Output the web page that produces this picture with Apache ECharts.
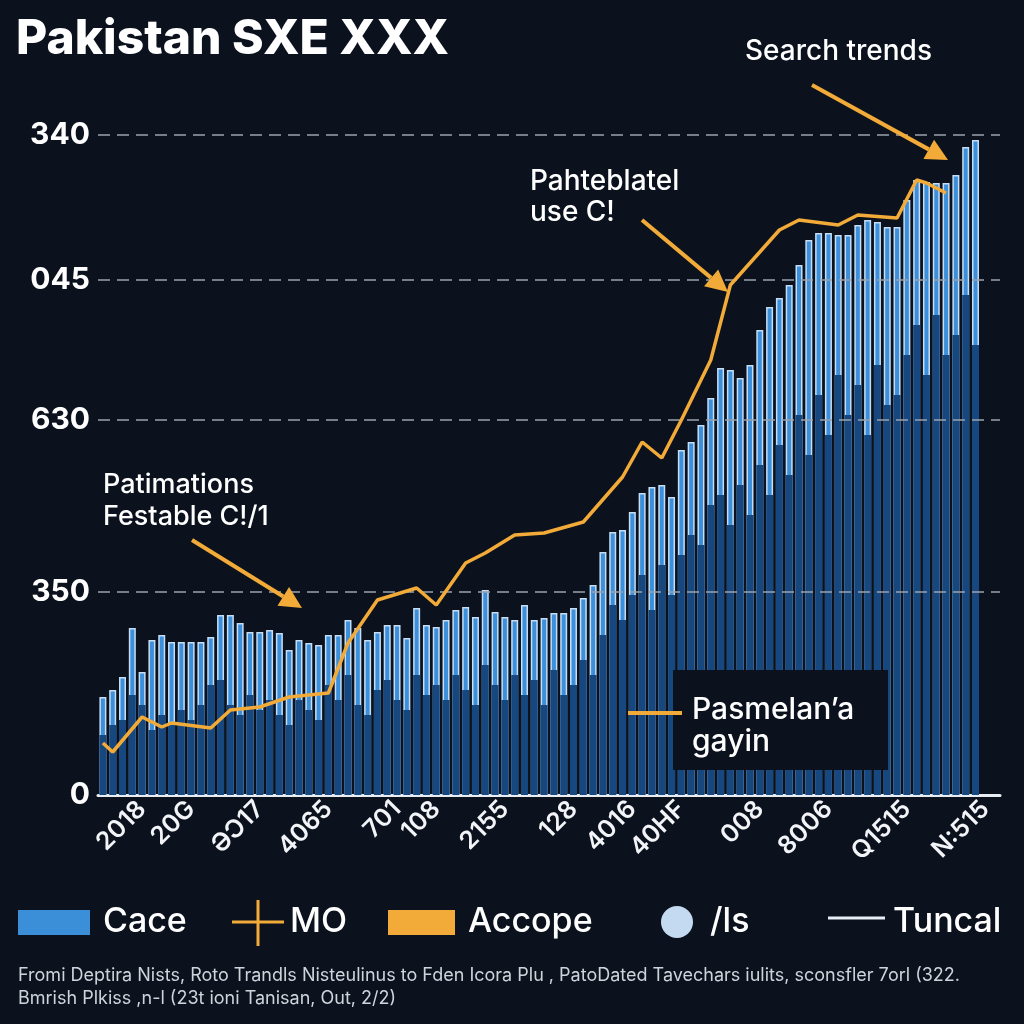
<!DOCTYPE html>
<html>
<head>
<meta charset="utf-8">
<script src="https://cdn.jsdelivr.net/npm/echarts@6/dist/echarts.min.js"></script>
<style>
html,body{margin:0;padding:0;background:#0b121e;}
#c{width:1024px;height:1024px;}
</style>
</head>
<body>
<div id="c"></div>
<script>
// ---- data ----
const barTotals = [98,105,118,167,123,155,160,153,153,153,153,
  158,180,180,172,163,163,165,162,145,155,
  152,150,160,160,175,167,155,163,170,170,
  157,187,170,168,175,185,188,178,205,183,
  178,175,190,175,177,182,182,187,197,210,
  243,263,265,283,302,308,310,298,345,353,
  370,397,427,425,417,430,465,488,497,510,
  530,555,562,562,560,560,570,575,573,568,
  568,595,615,613,612,612,620,648,655];
const barDark = [60,70,75,100,90,65,80,70,85,75,90,
  110,115,90,80,100,85,95,80,70,95,
  85,75,110,95,120,90,80,105,115,95,
  85,120,100,110,95,120,105,90,130,110,
  95,120,100,115,90,125,100,110,135,120,
  160,190,175,200,220,185,230,200,240,260,
  250,290,300,270,310,280,330,300,350,320,
  380,340,400,360,420,380,410,360,430,390,
  400,440,470,420,480,440,460,500,450];
const lineIdx = [0,1,4,6,7,11,13,16,19,23,25,28,32,34,37,39,42,45,49,53,55,57,59,61,62,64,69,71,75,77,81,83,84,86];
const lineVal = [52,43,78,68,72,67,85,88,98,102,152,195,207,190,232,242,260,262,273,318,353,337,375,415,435,510,565,575,570,580,577,615,612,602];
const xTickPos = [4,9,16,23,30,34,41,48,54,59,67,74,82,90];
const xTickLabels = ['2018','20G','ƏƆ17','4065','701','108','2155','128','4016','40HF','008','8006','Q1515','N:515'];
const yTickVals = [0,203,375,515,660];
const yTickLabels = ['0','350','630','045','340'];
const gridVals = [203,375,515,660];
const nCats = 92;

const categories = Array.from({length:nCats},(_,i)=>String(i));
const labelMap = {};
xTickPos.forEach((p,k)=>labelMap[p]=xTickLabels[k]);
const yLabelMap = {};
yTickVals.forEach((v,k)=>yLabelMap[v]=yTickLabels[k]);

const FONT = 'Inter, "Noto Sans", sans-serif';
const ORANGE = '#f2aa38';

function arrow(x1,y1,x2,y2){
  const a = Math.atan2(y2-y1,x2-x1), L=22, W=11;
  const bx = x2 - L*Math.cos(a), by = y2 - L*Math.sin(a);
  const px = -Math.sin(a)*W, py = Math.cos(a)*W;
  return [
    {type:'line',shape:{x1:x1,y1:y1,x2:bx,y2:by},style:{stroke:ORANGE,lineWidth:4},z:100},
    {type:'polygon',shape:{points:[[x2,y2],[bx+px,by+py],[bx-px,by-py]]},style:{fill:ORANGE},z:100}
  ];
}
function txt(x,y,t,size,weight,color,extra){
  return Object.assign({type:'text',x:x,y:y,style:{text:t,fill:color||'#fff',font:(weight||500)+' '+size+'px '+FONT,textVerticalAlign:'middle'},z:100},extra||{});
}

const graphics = [
  txt(16,40,'Pakistan SXE XXX',48,800),
  txt(745,52,'Search trends',28,500),
  ...arrow(812,85,948,160),
  txt(530,182,'Pahteblatel',28,500),
  txt(530,213,'use C!',28,500),
  ...arrow(642,220,728,292),
  txt(103,485,'Patimations',27,500),
  txt(103,517,'Festable C!/1',27,500),
  ...arrow(192,540,302,608),
  {type:'rect',shape:{x:673,y:670,width:215,height:100},style:{fill:'#0b121e'},z:90},
  {type:'line',shape:{x1:628,y1:713,x2:682,y2:713},style:{stroke:ORANGE,lineWidth:4},z:100},
  txt(692,710,'Pasmelan’a',30,500),
  txt(692,742,'gayin',30,500),
  // legend
  {type:'rect',shape:{x:18,y:910,width:72,height:25},style:{fill:'#3a8fd8'},z:100},
  txt(103,922,'Cace',34,500),
  {type:'line',shape:{x1:258,y1:900,x2:258,y2:946},style:{stroke:ORANGE,lineWidth:3},z:100},
  {type:'line',shape:{x1:232,y1:922,x2:284,y2:922},style:{stroke:ORANGE,lineWidth:3},z:100},
  txt(290,922,'MO',34,500),
  {type:'rect',shape:{x:388,y:910,width:67,height:25},style:{fill:ORANGE},z:100},
  txt(468,922,'Accope',34,500),
  {type:'circle',shape:{cx:677,cy:922,r:16},style:{fill:'#c3daf1'},z:100},
  txt(710,922,'/ls',34,500),
  {type:'line',shape:{x1:828,y1:918,x2:885,y2:918},style:{stroke:'#e8eef5',lineWidth:3},z:100},
  txt(893,922,'Tuncal',34,500),
  // footer
  txt(18,976,'Fromi Deptira Nists, Roto Trandls Nisteulinus to Fden Icora Plu , PatoDated Tavechars iulits, sconsfler 7orl (322.',18,400,'#cfd3da'),
  txt(18,999,'Bmrish Plkiss ,n-l (23t ioni Tanisan, Out, 2/2)',18,400,'#cfd3da')
];

const chart = echarts.init(document.getElementById('c'));
chart.setOption({
  backgroundColor:'#0b121e',
  animation:false,
  grid:{left:98,right:24,top:135,bottom:229,containLabel:false},
  xAxis:{
    type:'category',data:categories,boundaryGap:true,
    axisLine:{lineStyle:{color:'#e8edf3',width:3}},
    axisTick:{show:false},
    axisLabel:{interval:0,rotate:45,margin:10,color:'#f2f4f7',
      fontFamily:FONT,fontSize:25,fontWeight:600,
      formatter:(v,i)=>labelMap[i]||''}
  },
  yAxis:{
    type:'value',min:0,max:660,
    splitLine:{show:false},axisLine:{show:false},axisTick:{show:false},
    axisLabel:{customValues:yTickVals,color:'#fff',fontFamily:FONT,fontSize:30,fontWeight:700,margin:8,
      formatter:v=>yLabelMap[v]!==undefined?yLabelMap[v]:''}
  },
  series:[
    {name:'Cace',type:'bar',data:barTotals,barWidth:7,
      itemStyle:{color:'#3b8fdb',borderColor:'#c6ddf3',borderWidth:1.5},
      markLine:{silent:true,symbol:'none',label:{show:false},
        lineStyle:{color:'#9aa3ae',type:[12,7],width:1.6},
        data:gridVals.map(v=>({yAxis:v}))}},
    {name:'dark',type:'bar',data:barDark,barWidth:7,barGap:'-100%',
      itemStyle:{color:'#17477f'}},
    {name:'MO',type:'line',data:lineIdx.map((x,k)=>[x,lineVal[k]]),
      symbol:'none',lineStyle:{color:ORANGE,width:3.5},z:10}
  ],
  graphic:graphics
});
</script>
</body>
</html>
